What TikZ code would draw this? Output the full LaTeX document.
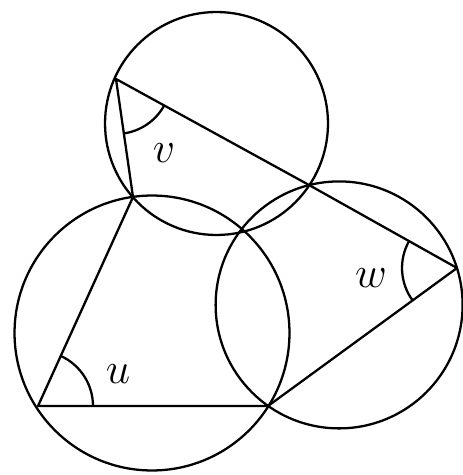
\documentclass[tikz,border=0pt]{standalone}
\usepackage{tikz}
\usetikzlibrary{angles, calc}

\begin{document}
\begin{tikzpicture}[
  x=0.02cm, y=-0.02cm,
  ring/.style={draw=black, line width=1.3pt},
  side/.style={draw=black, line width=1.3pt, line join=round},
  anglearc/.style={draw=black, line width=1.3pt, angle radius=1.1cm},
  lbl/.style={font=\fontsize{32}{34}\selectfont, inner sep=0pt}
]
\useasboundingbox (0,0) rectangle (462,475);

%% Points where the circles and sides meet
\coordinate (A) at (116,79);
\coordinate (Q) at (133,197);
\coordinate (P) at (309,185);
\coordinate (W) at (457,268);
\coordinate (B) at (38,406);
\coordinate (R) at (268,406);

%% Circle centres
\coordinate (Otop)   at (216.5,123.5);
\coordinate (Oleft)  at (152,333);
\coordinate (Oright) at (339.1,304.9);

%% The three circles
\draw[ring] (Otop)   circle[radius=2.23cm];
\draw[ring] (Oleft)  circle[radius=2.75cm];
\draw[ring] (Oright) circle[radius=2.47cm];

%% Sides
\draw[side] (Q) -- (A) -- (P) -- (W);
\draw[side] (Q) -- (B) -- (R) -- (W);

%% Angles
\pic[anglearc] {angle = Q--A--W};
\pic[anglearc] {angle = R--B--Q};
\pic[anglearc] {angle = A--W--R};

%% Angle labels
\node[lbl] (lv) at (164,153) {$v$};
\node[lbl] (lu) at (118,374) {$u$};
\node[lbl] (lw) at (371,278) {$w$};

\end{tikzpicture}
\end{document}
